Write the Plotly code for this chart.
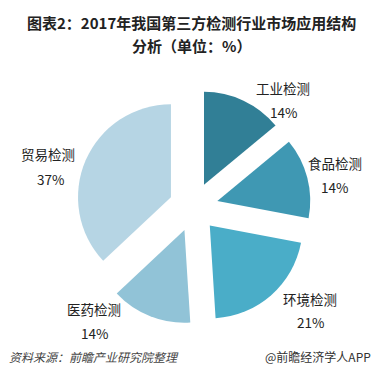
import plotly.graph_objects as go

categories = ["工业检测", "食品检测", "环境检测", "医药检测", "贸易检测"]
values = [14, 14, 21, 14, 37]
colors = ["#317f96", "#3f98b3", "#4aadc8", "#91c3d7", "#b6d5e4"]

W, H = 382, 380

# label anchor points (pixels: name line centre, value line centre)
label_pos = [
    ((283, 88), (283, 112)),
    ((335, 163), (334, 187)),
    ((310, 299), (310, 322)),
    ((94, 309), (94, 333)),
    ((48, 154), (50, 179)),
]

fig = go.Figure(go.Pie(
    labels=categories,
    values=values,
    sort=False,
    direction="clockwise",
    rotation=0,
    pull=[0.265] * len(values),
    marker=dict(colors=colors, line=dict(width=0)),
    textinfo="none",
    hoverinfo="label+value",
    showlegend=False,
    domain=dict(x=[76 / W, 311 / W], y=[1 - 325 / H, 1 - 89 / H]),
))

annotations = [
    dict(text="<b>图表2：2017年我国第三方检测行业市场应用结构</b>", x=0.5, y=1 - 23 / H,
         xref="paper", yref="paper", showarrow=False, xanchor="center", yanchor="middle",
         font=dict(size=15, color="#222222")),
    dict(text="<b>分析（单位：%）</b>", x=0.5, y=1 - 45 / H,
         xref="paper", yref="paper", showarrow=False, xanchor="center", yanchor="middle",
         font=dict(size=15, color="#222222")),
    dict(text="<i>资料来源：前瞻产业研究院整理</i>", x=7 / W, y=1 - 356 / H,
         xref="paper", yref="paper", showarrow=False, xanchor="left", yanchor="middle",
         font=dict(size=12, color="#444444")),
    dict(text="@前瞻经济学人APP", x=373 / W, y=1 - 356 / H,
         xref="paper", yref="paper", showarrow=False, xanchor="right", yanchor="middle",
         font=dict(size=12, color="#333333")),
]

for cat, val, (p1, p2) in zip(categories, values, label_pos):
    annotations.append(dict(text=cat, x=p1[0] / W, y=1 - p1[1] / H, xref="paper", yref="paper",
                            showarrow=False, xanchor="center", yanchor="middle",
                            font=dict(size=13.5, color="#222222")))
    annotations.append(dict(text=f"{val}%", x=p2[0] / W, y=1 - p2[1] / H, xref="paper", yref="paper",
                            showarrow=False, xanchor="center", yanchor="middle",
                            font=dict(size=13.5, color="#222222")))

fig.update_layout(
    width=W, height=H,
    margin=dict(l=0, r=0, t=0, b=0),
    paper_bgcolor="white",
    font=dict(family="Noto Sans CJK SC"),
    annotations=annotations,
)

fig.write_html("out.html")
